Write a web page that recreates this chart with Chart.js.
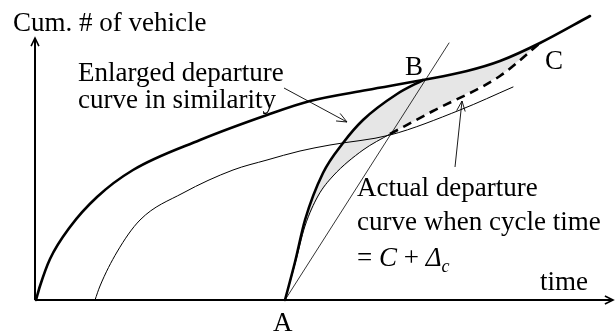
<!DOCTYPE html>
<html>
<head>
<meta charset="utf-8">
<script src="https://cdn.jsdelivr.net/npm/chart.js@4.4.1/dist/chart.umd.min.js"></script>
<style>
  html, body { margin: 0; padding: 0; background: #fff; }
  canvas { display: block; }
</style>
</head>
<body>
<canvas id="chart" width="615" height="334"></canvas>
<script>
// values (time, cum. # of vehicles), origin at the axes corner
const enlargedCurve = [[1,0],[5,14],[15,41],[35,73],[62,103],[98,130],[165,160],[232,185],[275,199],[332,210],[388,220],[432,229],[465,239],[505,257],[555,284]];
const departureCurve = [[60,0],[65,14],[82,48],[105,80],[148,107],[198,130],[232,140],[265,149],[295,155],[355,165],[425,190],[478,213]];
const arrivalCurve = [[250,0],[260,38],[270,80],[288,127],[308,157],[328,180],[362,206],[388,220]];
const actualCurve = [[250,0],[260,36],[270,74],[283,104],[298,124],[328,150],[355,166]];
const actualDashed = [[355,166],[398,189],[465,224],[505,257]];
const capacityLine = [[250,0],[414,257]];
const xAxisLine = [[0,0],[578,0]];
const yAxisLine = [[0,0],[0,262]];

const pts = a => a.map(p => ({ x: p[0], y: p[1] }));

// shaded area: A -> B along arrival curve, B -> C along enlarged curve, back along actual curve
const shadeArea = [].concat(
  arrivalCurve,
  enlargedCurve.filter(p => p[0] > 388 && p[0] <= 505),
  actualDashed.slice().reverse().slice(1),
  actualCurve.slice().reverse().slice(1)
);

const serif = '"Liberation Serif", "Times New Roman", serif';
const fontSize = 27;

const labels = [
  { text: 'Cum. # of vehicle', x: -22, y: 269 },
  { text: 'Enlarged departure', x: 43, y: 219 },
  { text: 'curve in similarity', x: 43, y: 192 },
  { text: 'B', x: 370, y: 225 },
  { text: 'C', x: 510, y: 231 },
  { text: 'A', x: 238, y: -31 },
  { text: 'Actual departure', x: 322, y: 104 },
  { text: 'curve when cycle time', x: 322, y: 70 },
  { text: 'time', x: 505, y: 10 }
];

const pointers = [
  { from: [249, 212], to: [312, 178] },
  { from: [420, 133], to: [427, 199] }
];

const overlay = {
  id: 'overlay',
  afterDatasetsDraw(chart) {
    const { ctx, scales: { x, y } } = chart;
    const px = v => x.getPixelForValue(v);
    const py = v => y.getPixelForValue(v);

    function head(tx, ty, ang, len, spread, lw) {
      ctx.save();
      ctx.lineWidth = lw;
      ctx.strokeStyle = '#000';
      ctx.beginPath();
      ctx.moveTo(tx - len * Math.cos(ang - spread), ty - len * Math.sin(ang - spread));
      ctx.lineTo(tx, ty);
      ctx.lineTo(tx - len * Math.cos(ang + spread), ty - len * Math.sin(ang + spread));
      ctx.stroke();
      ctx.restore();
    }

    // axis arrowheads
    const xe = xAxisLine[1], ye = yAxisLine[1];
    head(px(xe[0]), py(xe[1]), 0, 9, 0.45, 1.6);
    head(px(ye[0]), py(ye[1]), -Math.PI / 2, 9, 0.45, 1.6);

    // pointer arrows
    pointers.forEach(p => {
      const x0 = px(p.from[0]), y0 = py(p.from[1]);
      const x1 = px(p.to[0]), y1 = py(p.to[1]);
      ctx.save();
      ctx.lineWidth = 0.9;
      ctx.strokeStyle = '#000';
      ctx.beginPath();
      ctx.moveTo(x0, y0);
      ctx.lineTo(x1, y1);
      ctx.stroke();
      ctx.restore();
      head(x1, y1, Math.atan2(y1 - y0, x1 - x0), 11, 0.4, 0.9);
    });

    // texts
    ctx.save();
    ctx.fillStyle = '#000';
    ctx.textBaseline = 'alphabetic';
    ctx.textAlign = 'left';
    ctx.font = fontSize + 'px ' + serif;
    labels.forEach(l => ctx.fillText(l.text, px(l.x), py(l.y)));

    // "= C + Δc"
    let cx = px(322);
    const cy = py(34);
    const parts = [
      ['= ', 'normal', 0, fontSize],
      ['C', 'italic', 0, fontSize],
      [' + ', 'normal', 0, fontSize],
      ['\u0394', 'italic', 0, fontSize],
      ['c', 'italic', 6, 18]
    ];
    parts.forEach(([t, st, dy, fs]) => {
      ctx.font = st + ' ' + fs + 'px ' + serif;
      ctx.fillText(t, cx, cy + dy);
      cx += ctx.measureText(t).width;
    });
    ctx.restore();
  }
};

const line = (data, width, extra) => Object.assign({
  data: pts(data),
  borderColor: '#000',
  borderWidth: width,
  pointRadius: 0,
  cubicInterpolationMode: 'monotone',
  fill: false,
  clip: false,
  borderCapStyle: 'round',
  borderJoinStyle: 'round'
}, extra || {});

new Chart(document.getElementById('chart').getContext('2d'), {
  type: 'line',
  data: {
    datasets: [
      line(xAxisLine, 2, { cubicInterpolationMode: 'default', borderCapStyle: 'butt' }),
      line(yAxisLine, 2, { cubicInterpolationMode: 'default', borderCapStyle: 'butt' }),
      line(enlargedCurve, 2.6),
      line(arrivalCurve, 2.6),
      line(departureCurve, 1),
      line(actualCurve, 1),
      line(capacityLine, 0.8, { cubicInterpolationMode: 'default' }),
      line(actualDashed, 2.6, { borderDash: [9, 6], borderCapStyle: 'butt' }),
      line(shadeArea, 0, { cubicInterpolationMode: 'default', tension: 0, fill: 'shape', backgroundColor: '#e6e6e6', borderColor: 'rgba(0,0,0,0)', order: 10 })
    ]
  },
  options: {
    responsive: false,
    animation: false,
    events: [],
    layout: { padding: 0 },
    plugins: { legend: { display: false }, tooltip: { enabled: false } },
    scales: {
      x: { type: 'linear', min: -35, max: 580, display: false },
      y: { type: 'linear', min: -34, max: 300, display: false }
    }
  },
  plugins: [overlay]
});
</script>
</body>
</html>
